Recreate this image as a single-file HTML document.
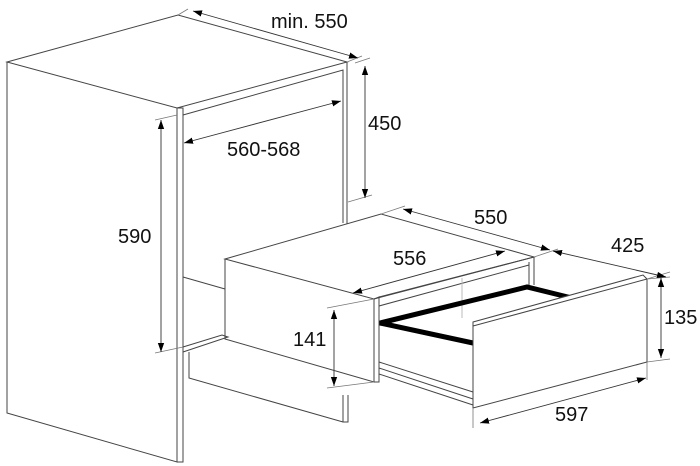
<!DOCTYPE html>
<html><head><meta charset="utf-8"><style>
html,body{margin:0;padding:0;background:#fff}
svg{display:block}
text{font-family:"Liberation Sans","DejaVu Sans",sans-serif;font-size:20px;fill:#111}
</style></head><body>
<svg width="700" height="466" viewBox="0 0 700 466" xmlns="http://www.w3.org/2000/svg">
<defs>
<marker id="a" viewBox="0 0 10 10" refX="10" refY="5" markerWidth="9" markerHeight="9" orient="auto-start-reverse" markerUnits="userSpaceOnUse"><path d="M0,1.5 L10,5 L0,8.5z" fill="#000"/></marker>
</defs>
<g fill="none" stroke="#444" stroke-width="1">
<path d="M7,62 L178,15 L347,62 L177,108 Z" fill="#fff"/>
<path d="M7,62 L7,413 L177,462 L177,108"/>
<path d="M183,115 L343,70 L343,223"/>
<path d="M347,62 L347,225"/>
<path d="M177,108 L183,108 L183,462 L177,462"/>
<path d="M183,277 L225,289"/>
<path d="M183,347 L222,335 L228,337 L183,352"/>
<path d="M189,352 L189,378 L343,422 L348,422 L348,395"/>
<path d="M343,395 L343,422"/>
<path d="M225,259 L381,214 L534,257 L374,299 Z" fill="#fff"/>
<path d="M225,259 L225,339 L374,382 L374,299"/>
<path d="M374,299 L379,297 L379,382 L374,382"/>
<path d="M379,297 L534,257 L534,285 M529,262 L529,287"/>
<path d="M379,306 L529,265"/>
<path d="M462,278 L462,318" stroke="#bbb"/>
<path d="M379,362 L473,392 M379,368 L473,399 M379,374 L473,405"/>
</g>
<path d="M473,343 L380,323 L527,287 L580,300" fill="none" stroke="#000" stroke-width="5" stroke-linejoin="miter"/>
<g fill="none" stroke="#444" stroke-width="1">
<path d="M473,322 L643,275 L647,279 L647,362 L473,408 Z" fill="#fff"/>
<path d="M473,326 L647,279"/>
</g>
<g stroke="#777" stroke-width="0.8" fill="none">
<path d="M178,15 L188,9 M347,62 L362,56 M355,63 L370,58"/>
<path d="M348,202 L372,195"/>
<path d="M155,120 L177,115 M155,353 L183,347"/>
<path d="M381,214 L405,206 M534,257 L558,249 M647,279 L670,272"/>
<path d="M327,308 L374,299 M327,388 L374,382"/>
<path d="M647,279 L670,277 M647,362 L670,359"/>
<path d="M473,408 L473,428 M647,362 L647,380"/>
</g>
<g stroke="#333" stroke-width="0.9" fill="none" marker-start="url(#a)" marker-end="url(#a)">
<line x1="193" y1="11" x2="358" y2="58"/>
<line x1="365" y1="66" x2="365" y2="198"/>
<line x1="184" y1="143" x2="341" y2="101"/>
<line x1="161" y1="120" x2="161" y2="352"/>
<line x1="403" y1="209" x2="550" y2="250"/>
<line x1="553" y1="251" x2="666" y2="277"/>
<line x1="353" y1="293" x2="505" y2="251"/>
<line x1="334" y1="310" x2="334" y2="386"/>
<line x1="661" y1="278" x2="661" y2="358"/>
<line x1="480" y1="423" x2="646" y2="378"/>
</g>
<text x="271" y="28">min. 550</text>
<text x="368" y="130">450</text>
<text x="227" y="156">560-568</text>
<text x="118" y="243">590</text>
<text x="474" y="224">550</text>
<text x="611" y="252">425</text>
<text x="393" y="265">556</text>
<text x="293" y="346">141</text>
<text x="664" y="324">135</text>
<text x="555" y="421">597</text>
</svg>
</body></html>
